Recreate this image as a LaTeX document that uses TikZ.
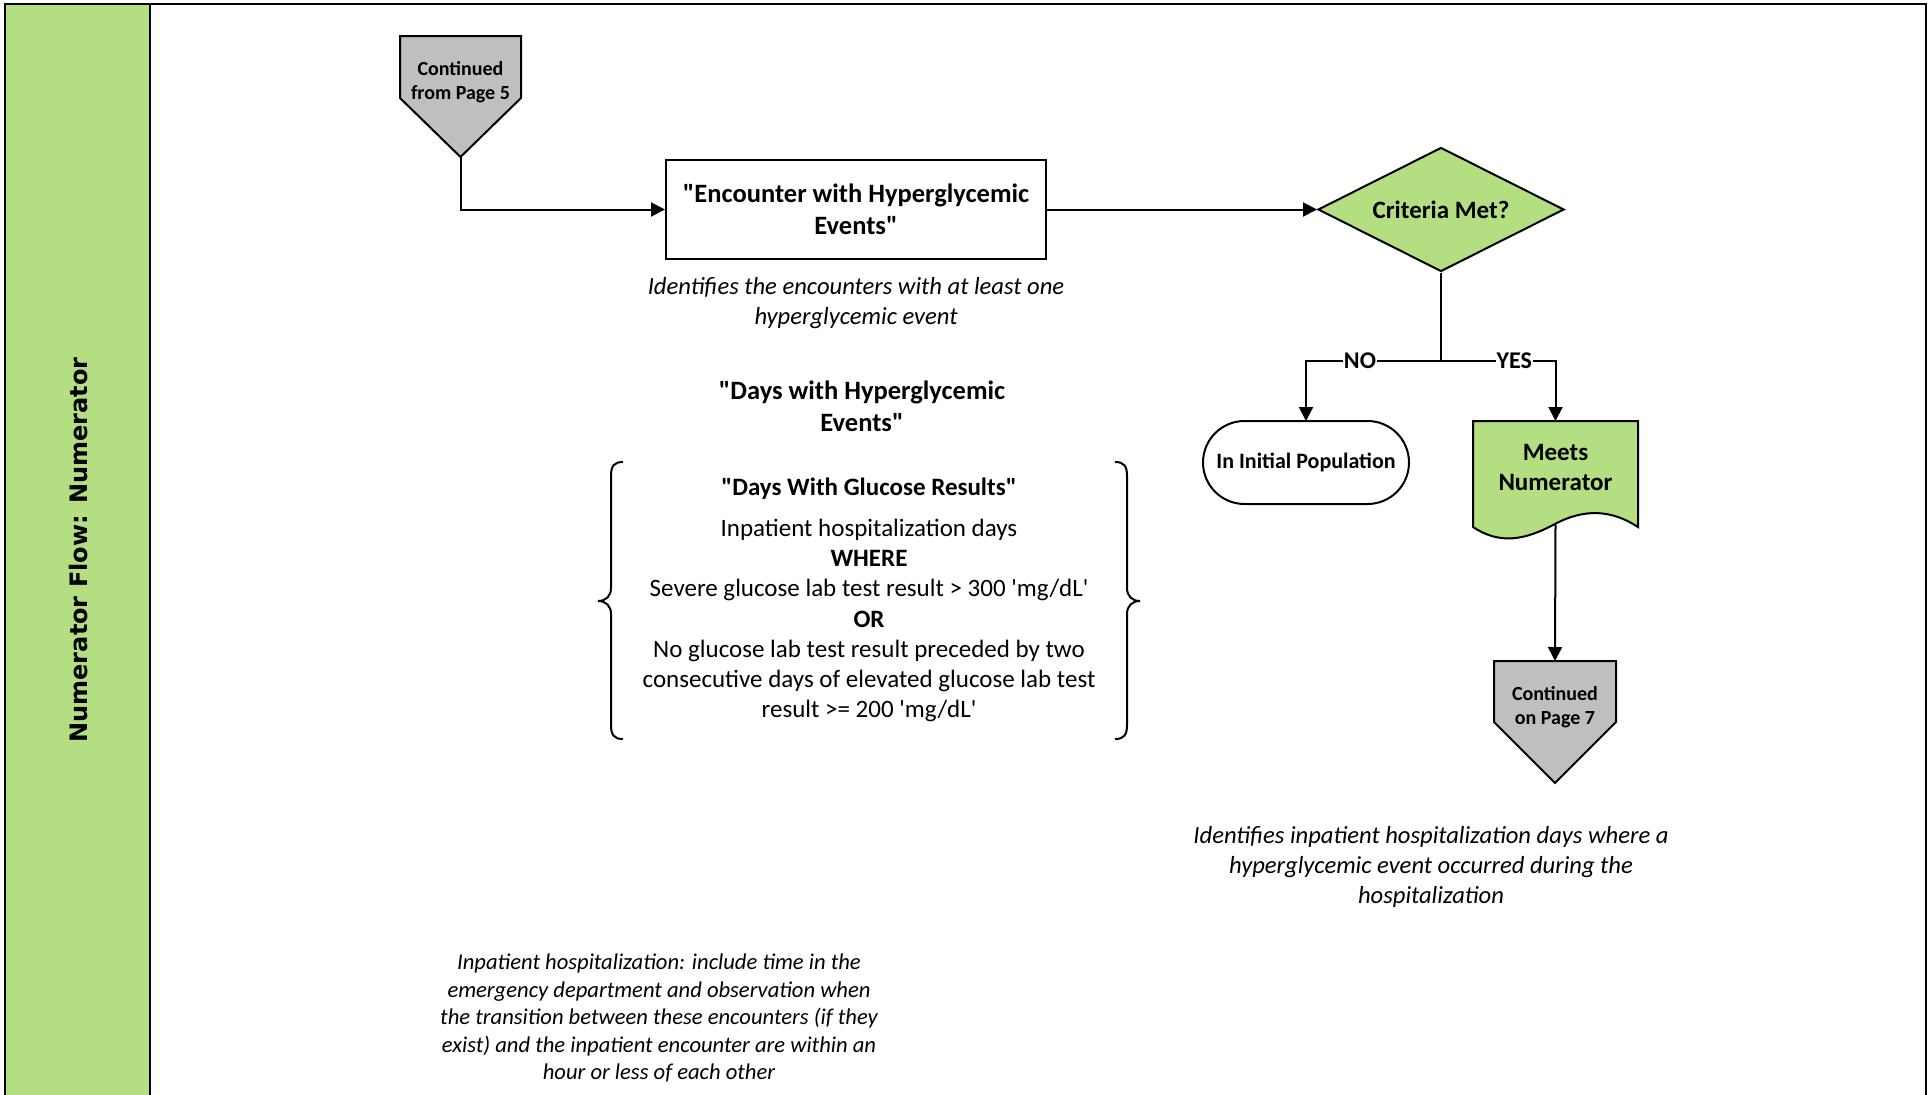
\documentclass[tikz,border=0pt]{standalone}
\usepackage{fontspec}
\setmainfont{Carlito}[Ligatures=TeXOff]
\newfontfamily\titlefont{DejaVu Sans}
\usetikzlibrary{arrows.meta,shapes.geometric,shapes.misc}
\definecolor{vgreen}{RGB}{179,222,129}
\definecolor{vgray}{RGB}{191,191,191}
\begin{document}
\begin{tikzpicture}[x=1pt,y=-1pt,
  lw/.style={line width=2pt},
  arr/.style={line width=2pt,-{Triangle[length=14pt,width=14pt]}},
  fcont/.style={font=\fontsize{20}{24}\selectfont\bfseries,align=center,inner sep=0pt},
  fbox/.style={font=\fontsize{26.5}{32}\selectfont\bfseries,align=center,inner sep=0pt},
  fbody/.style={font=\fontsize{25}{30.3}\selectfont,align=center,inner sep=0pt},
  fcap/.style={font=\fontsize{24.6}{30}\selectfont\itshape,align=center,inner sep=0pt},
  fnote/.style={font=\fontsize{22.6}{27.5}\selectfont\itshape,align=center,inner sep=0pt},
  flab/.style={font=\fontsize{24}{27}\selectfont\bfseries,fill=white,inner sep=1pt},
]
\useasboundingbox (0,0) rectangle (1931,1095);
\clip (0,0) rectangle (1931,1095);
% frame and lane header
\fill[white] (0,0) rectangle (1931,1095);
\draw[line width=2.5pt, fill=vgreen] (5,1110) -- (5,4) -- (150,4) -- (150,1110);
\draw[line width=2.5pt] (150,4) -- (1926,4) -- (1926,1110);
\node[rotate=90, font=\titlefont\fontsize{24}{28}\selectfont\bfseries, inner sep=0pt] (lanetitle) at (79,550) {Numerator Flow: Numerator};

% continued from page 5
\draw[lw, fill=vgray] (400,36) -- (521,36) -- (521,98) -- (460.5,157) -- (400,98) -- cycle;
\node[fcont] (c5) at (460.5,82) {Continued\\from Page 5};
\coordinate (c5tip) at (460.5,157);

% encounter box
\node[draw, lw, minimum width=380pt, minimum height=99pt, fbox] (enc) at (856,209.5) {"Encounter with Hyperglycemic\\Events"};
\node[fcap] (enccap) at (856,303) {Identifies the encounters with at least one\\hyperglycemic event};

% decision
\node[diamond, draw, lw, fill=vgreen, aspect=2, minimum width=246pt, minimum height=124pt, inner sep=0pt, font=\fontsize{25}{30}\selectfont\bfseries] (crit) at (1441,209.5) {Criteria Met?};

% days with hyperglycemic events
\node[fbox] (dhe) at (862,406) {"Days with Hyperglycemic\\Events"};
\node[font=\fontsize{25}{30}\selectfont\bfseries, inner sep=0pt] (dgr) at (869,489) {"Days With Glucose Results"};
\node[fbody] (dgrbody) at (869,620.5) {Inpatient hospitalization days\\\textbf{WHERE}\\Severe glucose lab test result > 300 'mg/dL'\\\textbf{OR}\\No glucose lab test result preceded by two\\consecutive days of elevated glucose lab test\\result >= 200 'mg/dL'};
\draw[lw] (623,462) .. controls (614,462) and (611,466) .. (611,476) -- (611,588)
  .. controls (611,596) and (606,601) .. (598,601) .. controls (606,601) and (611,606) .. (611,614)
  -- (611,725) .. controls (611,735) and (614,739) .. (623,739);
\draw[lw] (1115,462) .. controls (1124,462) and (1127,466) .. (1127,476) -- (1127,588)
  .. controls (1127,596) and (1132,601) .. (1140,601) .. controls (1132,601) and (1127,606) .. (1127,614)
  -- (1127,725) .. controls (1127,735) and (1124,739) .. (1115,739);

% outcomes
\node[rounded rectangle, draw, lw, minimum width=206pt, minimum height=83pt, inner sep=0pt, font=\fontsize{22}{26}\selectfont\bfseries] (init) at (1306,462.5) {In Initial Population};
\draw[lw, fill=vgreen] (1473,421) -- (1638,421) -- (1638,527)
  .. controls (1612,510) and (1585,508) .. (1555,524)
  .. controls (1525,540) and (1500,545) .. (1473,527) -- cycle;
\node[font=\fontsize{25}{30}\selectfont\bfseries, align=center, inner sep=0pt] (meets) at (1555.5,467) {Meets\\Numerator};
\coordinate (meetsbot) at (1555.5,525);
\coordinate (meetstop) at (1555.5,421);
\coordinate (inittop) at (1306,421);

% continued on page 7
\draw[lw, fill=vgray] (1494,661) -- (1616,661) -- (1616,722) -- (1555,783) -- (1494,722) -- cycle;
\node[fcont] (c7) at (1555,707) {Continued\\on Page 7};
\coordinate (c7top) at (1555,661);

\node[fcap] (meetscap) at (1431,867) {Identifies inpatient hospitalization days where a\\hyperglycemic event occurred during the\\hospitalization};

\node[fnote] (note) at (659,1018) {Inpatient hospitalization: include time in the\\emergency department and observation when\\the transition between these encounters (if they\\exist) and the inpatient encounter are within an\\hour or less of each other};

% connectors
\coordinate (split) at (1441,361);
\draw[arr] (c5tip) |- (enc.west);
\draw[arr] (enc.east) -- (crit.west);
\draw[lw] (crit.south) -- (split);
\draw[arr] (split) -| (inittop) node[flab, pos=0.3] (nolab) {NO};
\draw[arr] (split) -| (meetstop) node[flab, pos=0.32] (yeslab) {YES};
\draw[arr] (meetsbot) -- (c7top);
\end{tikzpicture}
\end{document}
